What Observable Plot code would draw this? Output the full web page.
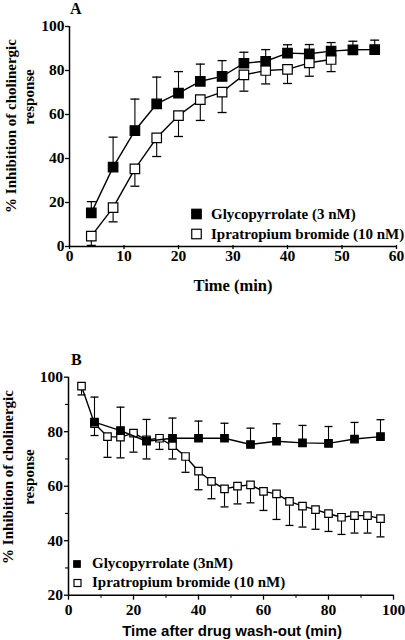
<!DOCTYPE html>
<html><head><meta charset="utf-8">
<script src="https://cdn.jsdelivr.net/npm/d3@7"></script>
<script src="https://cdn.jsdelivr.net/npm/@observablehq/plot@0.6"></script>
<style>
body{margin:0;background:#fff}
#wrap{position:relative;width:405px;height:640px;overflow:hidden;background:#fff}
#wrap svg{position:absolute;left:0}
</style></head><body><div id="wrap"></div>
<script>
// ---------- Panel A data ----------
const timeGlyA = [4,8,12,16,20,24,28,32,36,40,44,48,52,56];
const valGlyA  = [15.3,36.1,52.7,64.8,69.7,75.1,77.3,83.3,84.2,87.9,87.6,88.8,89.4,89.5];
const upGlyA   = [20.4,49.7,67.0,77.0,79.5,82.9,84.5,88.3,89.5,91.7,91.8,92.7,93.3,93.8];
const timeIprA = [4,8,12,16,20,24,28,32,36,40,44,48];
const valIprA  = [4.7,17.7,35.3,49.4,59.5,66.8,70.2,78.0,80.0,80.5,83.5,85.0];
const loIprA   = [0.5,11.2,27.4,40.9,50.0,57.3,60.9,70.6,73.9,74.1,77.4,79.5];
const ticksXA = [0,10,20,30,40,50,60];
const ticksYA = [0,20,40,60,80,100];

// ---------- Panel B data ----------
const timeGlyB = [8,16,24,32,40,48,56,64,72,80,88,96];
const valGlyB  = [83.5,80.4,76.5,77.6,77.6,77.6,75.3,76.5,75.9,75.7,77.3,78.2];
const upGlyB   = [92.7,89.0,84.5,85.0,83.9,83.1,81.3,82.9,82.3,81.9,83.4,84.4];
const timeIprB = [4,8,12,16,20,24,28,32,36,40,44,48,52,56,60,64,68,72,76,80,84,88,92,96];
const valIprB  = [96.7,83.0,78.2,78.0,79.5,77.0,77.6,74.9,70.9,65.5,61.8,59.0,60.0,60.5,58.1,57.2,54.4,52.7,51.4,49.9,48.6,49.2,49.2,48.1];
const loIprB   = [93.5,78.6,70.6,70.4,72.5,70.0,73.5,70.0,65.1,58.7,55.4,52.4,53.5,53.9,51.1,47.8,45.6,45.0,44.2,43.4,42.3,42.8,42.8,41.4];
const ticksXB = [0,20,40,60,80,100];
const minorXB = [10,30,50,70,90];
const ticksYB = [20,40,60,80,100];
const minorYB = [30,50,70,90];

// ---------- Text ----------
const yLabel1 = "% Inhibition of cholinergic";
const yLabel2 = "response";
const xLabelA = "Time (min)";
const xLabelB = "Time after drug wash-out (min)";
const legendA = ["Glycopyrrolate (3 nM)", "Ipratropium bromide (10 nM)"];
const legendB = ["Glycopyrrolate (3nM)", "Ipratropium bromide (10 nM)"];

const rows = (xs, vs, es) => xs.map((x, i) => ({x, v: vs[i], e: es[i]}));
const gA = rows(timeGlyA, valGlyA, upGlyA), iA = rows(timeIprA, valIprA, loIprA);
const gB = rows(timeGlyB, valGlyB, upGlyB), iB = rows(timeIprB, valIprB, loIprB);

const cap = (w) => ({draw(ctx){ ctx.moveTo(-w, 0); ctx.lineTo(w, 0); }});
const sq = (s) => ({draw(ctx){ ctx.rect(-s/2, -s/2, s, s); }});

const baseStyle = {fontFamily: "'Liberation Serif', serif", fontSize: "15.5px", fontWeight: "bold", color: "black", background: "transparent", overflow: "visible"};

function series(data, sym, capW, fill) {
  return [
    Plot.ruleX(data, {x: "x", y1: "v", y2: "e", stroke: "black", strokeWidth: 1.1}),
    Plot.dot(data, {x: "x", y: "e", symbol: cap(capW), stroke: "black", strokeWidth: 1.3, fill: "none"}),
    Plot.line(data, {x: "x", y: "v", stroke: "black", strokeWidth: 1.4}),
    Plot.dot(data, {x: "x", y: "v", symbol: sym, fill, stroke: "black", strokeWidth: 1.2})
  ];
}

const plotA = Plot.plot({
  width: 405, height: 300,
  marginLeft: 69, marginRight: 9, marginTop: 26, marginBottom: 54,
  x: {domain: [0, 60]}, y: {domain: [0, 100]},
  style: baseStyle,
  marks: [
    Plot.axisX({ticks: ticksXA, tickSize: 4, tickPadding: 0, dy: -1, label: null, strokeWidth: 1.3}),
    Plot.axisY({ticks: ticksYA, tickSize: 4, tickPadding: 1, label: null, strokeWidth: 1.3}),
    Plot.ruleX([0], {stroke: "black", strokeWidth: 1.5}),
    Plot.ruleY([0], {stroke: "black", strokeWidth: 1.5}),
    ...series(iA, sq(9.5), 4.5, "white"),
    ...series(gA, sq(9.5), 4.5, "black")
  ]
});
plotA.style.top = "0px";

const plotB = Plot.plot({
  width: 405, height: 340,
  marginLeft: 68, marginRight: 12, marginTop: 76.7, marginBottom: 45.3,
  x: {domain: [0, 100]}, y: {domain: [20, 100]},
  style: baseStyle,
  marks: [
    Plot.axisX({ticks: ticksXB, tickSize: 5, tickPadding: 4, label: null, strokeWidth: 1.3}),
    Plot.axisX({ticks: minorXB, tickSize: 3, text: null, label: null, strokeWidth: 1.1}),
    Plot.axisY({ticks: ticksYB, tickSize: 4, tickPadding: 1.5, label: null, strokeWidth: 1.3}),
    Plot.axisY({ticks: minorYB, tickSize: 3, text: null, label: null, strokeWidth: 1.1}),
    Plot.ruleX([0], {stroke: "black", strokeWidth: 1.5}),
    Plot.ruleY([20], {stroke: "black", strokeWidth: 1.5}),
    ...series(iB, sq(7.5), 4, "white"),
    ...series(gB, sq(7.5), 4, "black")
  ]
});
plotB.style.top = "300px";

const wrap = document.getElementById("wrap");
wrap.appendChild(plotA);
wrap.appendChild(plotB);

// ---------- Overlay text (labels, legends) ----------
const ns = "http://www.w3.org/2000/svg";
const ov = document.createElementNS(ns, "svg");
ov.setAttribute("width", 405); ov.setAttribute("height", 640);
ov.style.top = "0px";
ov.setAttribute("font-family", "'Liberation Serif', serif");
ov.setAttribute("font-weight", "bold");
wrap.appendChild(ov);
function txt(s, x, y, opts = {}) {
  const t = document.createElementNS(ns, "text");
  t.textContent = s;
  t.setAttribute("x", 0); t.setAttribute("y", 0);
  t.setAttribute("transform", `translate(${x},${y})` + (opts.rot ? ` rotate(${opts.rot})` : ""));
  t.setAttribute("font-size", opts.size || 15);
  if (opts.anchor) t.setAttribute("text-anchor", opts.anchor);
  if (opts.family) t.setAttribute("font-family", opts.family);
  ov.appendChild(t);
}
function rect(cx, cy, s, filled) {
  const r = document.createElementNS(ns, "rect");
  r.setAttribute("x", cx - s/2); r.setAttribute("y", cy - s/2);
  r.setAttribute("width", s); r.setAttribute("height", s);
  r.setAttribute("fill", filled ? "black" : "white");
  r.setAttribute("stroke", "black"); r.setAttribute("stroke-width", 1.2);
  ov.appendChild(r);
}
// Panel A
txt("A", 70, 13.5, {size: 16});
txt(yLabel1, 15.5, 126, {rot: -90, anchor: "middle"});
txt(yLabel2, 34, 97, {rot: -90, anchor: "middle"});
txt(xLabelA, 233, 291, {size: 16.5, anchor: "middle"});
rect(196.5, 214, 9.5, true); rect(196.5, 234, 9.5, false);
txt(legendA[0], 211, 218.5); txt(legendA[1], 211, 238.5);
// Panel B
txt("B", 71, 365, {size: 16});
txt(yLabel1, 13, 477, {rot: -90, anchor: "middle"});
txt(yLabel2, 33.5, 477, {rot: -90, anchor: "middle"});
txt(xLabelB, 232, 636, {size: 15, anchor: "middle", family: "'Liberation Sans', Arial, sans-serif"});
rect(77, 564, 6.5, true); rect(77.5, 583, 7, false);
txt(legendB[0], 92, 567.5); txt(legendB[1], 92, 587);
</script></body></html>
